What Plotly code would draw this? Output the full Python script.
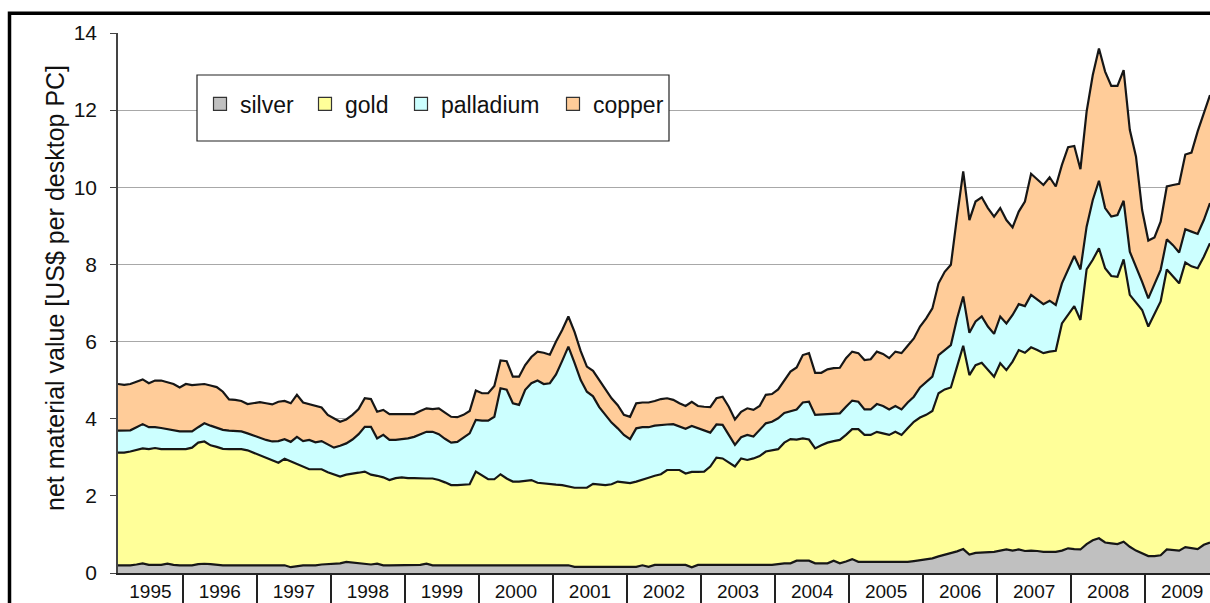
import plotly.graph_objects as go
import pandas as pd

# ---------------- data (monthly, Feb 1995 - Nov 2009) ----------------
months = [p.strftime("%Y-%m") for p in pd.period_range("1995-02", periods=178, freq="M")]

silver = [
    0.20, 0.20, 0.20, 0.22, 0.25, 0.21, 0.21, 0.21, 0.24, 0.21, 0.20,
    0.20, 0.20, 0.23, 0.24, 0.23, 0.21, 0.20, 0.20, 0.20, 0.20, 0.20, 0.20,
    0.20, 0.20, 0.20, 0.20, 0.20, 0.15, 0.18, 0.20, 0.20, 0.20, 0.22, 0.23,
    0.24, 0.25, 0.29, 0.27, 0.25, 0.24, 0.22, 0.24, 0.20, 0.20, 0.20, 0.20,
    0.20, 0.20, 0.21, 0.24, 0.20, 0.20, 0.20, 0.20, 0.20, 0.20, 0.20, 0.20,
    0.20, 0.20, 0.20, 0.20, 0.20, 0.20, 0.20, 0.20, 0.20, 0.20, 0.20, 0.20,
    0.20, 0.20, 0.20, 0.16, 0.16, 0.16, 0.16, 0.16, 0.16, 0.16, 0.16, 0.16,
    0.16, 0.16, 0.20, 0.16, 0.21, 0.21, 0.21, 0.21, 0.21, 0.21, 0.15, 0.21,
    0.21, 0.21, 0.21, 0.21, 0.21, 0.21, 0.21, 0.21, 0.21, 0.21, 0.21, 0.21,
    0.23, 0.25, 0.25, 0.32, 0.32, 0.32, 0.25, 0.25, 0.25, 0.32, 0.25, 0.30,
    0.36, 0.29, 0.29, 0.29, 0.29, 0.29, 0.29, 0.29, 0.29, 0.29, 0.31, 0.34,
    0.36, 0.38, 0.43, 0.47, 0.52, 0.56, 0.62, 0.48, 0.52, 0.53, 0.54, 0.55,
    0.58, 0.61, 0.58, 0.61, 0.57, 0.58, 0.57, 0.55, 0.55, 0.55, 0.58, 0.64,
    0.62, 0.61, 0.75, 0.85, 0.90, 0.79, 0.77, 0.75, 0.81, 0.68, 0.58, 0.51,
    0.44, 0.44, 0.46, 0.61, 0.60, 0.58, 0.67, 0.64, 0.62, 0.73, 0.79,
]

gold = [
    2.92, 2.92, 2.95, 2.98, 2.98, 3.00, 3.03, 3.00, 2.97, 3.00, 3.01,
    3.01, 3.05, 3.15, 3.17, 3.08, 3.06, 3.02, 3.01, 3.01, 3.01, 2.98, 2.92,
    2.86, 2.78, 2.72, 2.66, 2.76, 2.74, 2.66, 2.55, 2.49, 2.49, 2.47, 2.38,
    2.31, 2.25, 2.26, 2.30, 2.35, 2.39, 2.33, 2.28, 2.28, 2.21, 2.26, 2.28,
    2.26, 2.26, 2.24, 2.21, 2.25, 2.21, 2.15, 2.08, 2.08, 2.09, 2.10, 2.43,
    2.32, 2.23, 2.23, 2.36, 2.25, 2.17, 2.17, 2.19, 2.21, 2.14, 2.12, 2.10,
    2.09, 2.08, 2.04, 2.05, 2.05, 2.05, 2.15, 2.13, 2.12, 2.14, 2.21, 2.19,
    2.17, 2.21, 2.21, 2.31, 2.31, 2.35, 2.46, 2.46, 2.46, 2.37, 2.47, 2.41,
    2.42, 2.55, 2.78, 2.76, 2.65, 2.55, 2.76, 2.72, 2.76, 2.82, 2.94, 2.97,
    2.98, 3.13, 3.22, 3.14, 3.17, 3.14, 2.98, 3.06, 3.13, 3.10, 3.20, 3.28,
    3.37, 3.44, 3.29, 3.29, 3.37, 3.33, 3.29, 3.37, 3.29, 3.46, 3.61, 3.69,
    3.74, 3.82, 4.23, 4.29, 4.29, 4.79, 5.27, 4.65, 4.87, 4.92, 4.72, 4.54,
    4.86, 4.65, 4.90, 5.17, 5.14, 5.27, 5.21, 5.15, 5.19, 5.21, 5.89, 6.06,
    6.30, 5.95, 7.12, 7.27, 7.52, 7.11, 6.93, 6.93, 7.32, 6.53, 6.42, 6.31,
    5.95, 6.26, 6.58, 7.26, 7.10, 6.93, 7.38, 7.31, 7.28, 7.47, 7.76,
]

palladium = [
    0.57, 0.57, 0.55, 0.58, 0.63, 0.57, 0.54, 0.55, 0.52, 0.49, 0.46,
    0.46, 0.42, 0.40, 0.47, 0.51, 0.49, 0.49, 0.48, 0.47, 0.46, 0.44, 0.44,
    0.44, 0.47, 0.49, 0.56, 0.51, 0.51, 0.69, 0.67, 0.76, 0.70, 0.73, 0.73,
    0.70, 0.80, 0.81, 0.89, 1.00, 1.16, 1.24, 0.97, 1.10, 1.04, 0.99, 0.99,
    1.03, 1.07, 1.15, 1.21, 1.21, 1.19, 1.13, 1.10, 1.12, 1.21, 1.32, 1.34,
    1.43, 1.52, 1.62, 2.23, 2.30, 2.03, 1.99, 2.36, 2.51, 2.65, 2.58, 2.62,
    2.86, 3.22, 3.63, 3.24, 2.79, 2.49, 2.27, 2.01, 1.82, 1.60, 1.38, 1.23,
    1.14, 1.38, 1.37, 1.31, 1.30, 1.28, 1.18, 1.19, 1.13, 1.16, 1.19, 1.13,
    1.07, 0.88, 0.86, 0.87, 0.72, 0.56, 0.55, 0.65, 0.57, 0.68, 0.73, 0.74,
    0.80, 0.77, 0.73, 0.78, 0.93, 0.98, 0.87, 0.80, 0.74, 0.71, 0.69, 0.73,
    0.74, 0.71, 0.66, 0.66, 0.72, 0.71, 0.66, 0.67, 0.66, 0.67, 0.65, 0.78,
    0.85, 0.89, 0.99, 1.02, 1.10, 1.25, 1.28, 1.10, 1.13, 1.20, 1.13, 1.11,
    1.21, 1.21, 1.21, 1.19, 1.21, 1.36, 1.30, 1.27, 1.32, 1.19, 1.04, 1.15,
    1.30, 1.31, 1.11, 1.55, 1.75, 1.56, 1.54, 1.60, 1.52, 1.12, 0.95, 0.73,
    0.73, 0.80, 0.82, 0.78, 0.80, 0.80, 0.86, 0.90, 0.89, 0.95, 1.04,
]

copper = [
    1.21, 1.19, 1.20, 1.17, 1.16, 1.14, 1.21, 1.23, 1.22, 1.20, 1.14,
    1.23, 1.20, 1.10, 1.02, 1.04, 1.06, 0.99, 0.81, 0.81, 0.79, 0.76, 0.85,
    0.93, 0.95, 0.96, 1.02, 0.99, 1.00, 1.09, 1.00, 0.93, 0.94, 0.87, 0.76,
    0.75, 0.62, 0.62, 0.64, 0.65, 0.74, 0.72, 0.69, 0.65, 0.67, 0.67, 0.65,
    0.63, 0.59, 0.60, 0.61, 0.59, 0.67, 0.68, 0.67, 0.64, 0.60, 0.58, 0.76,
    0.71, 0.71, 0.80, 0.72, 0.74, 0.69, 0.73, 0.64, 0.68, 0.75, 0.81, 0.74,
    0.85, 0.80, 0.78, 0.80, 0.75, 0.65, 0.66, 0.70, 0.65, 0.63, 0.60, 0.52,
    0.58, 0.65, 0.64, 0.64, 0.64, 0.67, 0.68, 0.63, 0.60, 0.59, 0.63, 0.58,
    0.61, 0.66, 0.68, 0.73, 0.73, 0.66, 0.66, 0.69, 0.69, 0.62, 0.74, 0.72,
    0.75, 0.85, 1.02, 1.09, 1.23, 1.26, 1.09, 1.08, 1.16, 1.18, 1.18, 1.26,
    1.27, 1.26, 1.28, 1.30, 1.36, 1.35, 1.33, 1.41, 1.46, 1.47, 1.51, 1.58,
    1.65, 1.77, 1.86, 2.03, 2.08, 2.64, 3.24, 2.92, 3.11, 3.09, 3.07, 3.04,
    2.81, 2.68, 2.27, 2.40, 2.71, 3.14, 3.12, 3.09, 3.20, 3.07, 3.07, 3.19,
    2.85, 2.60, 2.98, 3.24, 3.43, 3.54, 3.39, 3.35, 3.39, 3.16, 2.85, 1.86,
    1.50, 1.20, 1.25, 1.37, 1.56, 1.78, 1.94, 2.05, 2.66, 2.75, 2.80,
]

years = [str(y) for y in range(1995, 2010)]
y_ticks = [0, 2, 4, 6, 8, 10, 12, 14]

# ---------------- derived axis positions ----------------
x = list(range(len(months)))
year_of = [m[:4] for m in months]
bounds = [i - 0.5 for i in range(1, len(months)) if year_of[i] != year_of[i - 1]]
label_pos = []
for yr in years:
    idx = [i for i, yy in enumerate(year_of) if yy == yr]
    lo = max(idx[0] - 0.5, 0)
    hi = idx[0] - 0.5 + 12 if yr == years[-1] else idx[-1] + 0.5
    label_pos.append((lo + hi) / 2)

# ---------------- figure ----------------
W, H = 1210, 603
ML, MR, MT, MB = 118, 0, 33, 30
PW, PH = W - ML - MR, H - MT - MB


def px_x(px):
    return (px - ML) / PW


def px_y(py):
    return (H - MB - py) / PH


FONT = "Liberation Sans, Arial, Helvetica, sans-serif"
series = [
    ("silver", silver, "#C0C0C0"),
    ("gold", gold, "#FFFF99"),
    ("palladium", palladium, "#CCFFFF"),
    ("copper", copper, "#FFCC99"),
]

fig = go.Figure()
for name, vals, col in series:
    fig.add_trace(go.Scatter(
        x=x, y=vals, name=name, stackgroup="metals", mode="lines",
        line=dict(color="#161616", width=2.2), fillcolor=col,
        customdata=months, showlegend=False,
        hovertemplate="%{customdata}<br>" + name + ": %{y:.2f}<extra></extra>",
    ))

legend_px = [200, 305, 401, 553]
legend_names = ["legend", "legend2", "legend3", "legend4"]
for (name, vals, col), lg in zip(series, legend_names):
    fig.add_trace(go.Scatter(
        x=[None], y=[None], mode="markers", name=name, legend=lg,
        marker=dict(symbol="square", size=13, color=col, line=dict(color="#333333", width=1.2)),
        hoverinfo="skip",
    ))

legend_common = dict(
    bgcolor="rgba(0,0,0,0)", borderwidth=0, font=dict(family=FONT, size=23, color="#111111"),
    orientation="h", xanchor="left", yanchor="middle", y=px_y(104), itemwidth=30,
)
layout_legends = {}
for lg, lx in zip(legend_names, legend_px):
    layout_legends[lg] = dict(legend_common, x=px_x(lx))

fig.update_layout(
    width=W, height=H, autosize=False,
    margin=dict(l=ML, r=MR, t=MT, b=MB, pad=0),
    paper_bgcolor="white", plot_bgcolor="white",
    font=dict(family=FONT, color="#111111"),
    showlegend=True,
    hovermode="closest",
    **layout_legends,
    xaxis=dict(
        range=[0, len(months) - 1], tickmode="array", tickvals=label_pos, ticktext=years,
        ticks="", showgrid=False, zeroline=False, showline=True, linecolor="#222222", linewidth=1.5,
        tickfont=dict(family=FONT, size=19, color="#111111"), automargin=False,
        ticklabelstandoff=0,
        minor=dict(tickmode="array", tickvals=bounds, ticks="outside", ticklen=30,
                   tickwidth=1.5, tickcolor="#222222", showgrid=False),
    ),
    yaxis=dict(
        range=[0, 14], tickmode="array", tickvals=y_ticks, ticks="outside", ticklen=6,
        tickwidth=1.2, tickcolor="#444444", showline=True, linecolor="#444444", linewidth=1.5,
        showgrid=True, gridcolor="#a8a8a8", gridwidth=1, zeroline=False,
        tickfont=dict(family=FONT, size=21, color="#111111"), automargin=False,
        ticklabelstandoff=9,
    ),
    annotations=[dict(
        text="net material value [US$ per desktop PC]", textangle=-90,
        xref="paper", yref="paper", x=px_x(55), y=px_y(288),
        xanchor="center", yanchor="middle", showarrow=False,
        font=dict(family=FONT, size=25, color="#111111"),
    )],
    shapes=[
        dict(type="rect", xref="paper", yref="paper",
             x0=px_x(9.5), x1=px_x(1260), y0=px_y(660), y1=px_y(13.3),
             line=dict(color="black", width=3.5), fillcolor="rgba(0,0,0,0)", layer="above"),
        dict(type="rect", xref="paper", yref="paper",
             x0=px_x(197), x1=px_x(669), y0=px_y(141), y1=px_y(75),
             line=dict(color="#222222", width=1.2), fillcolor="white", layer="above"),
    ],
)

fig.write_html(
    "out.html",
    config={"displayModeBar": False},
    post_script="document.body.style.margin='0px';document.body.style.overflow='hidden';",
)
